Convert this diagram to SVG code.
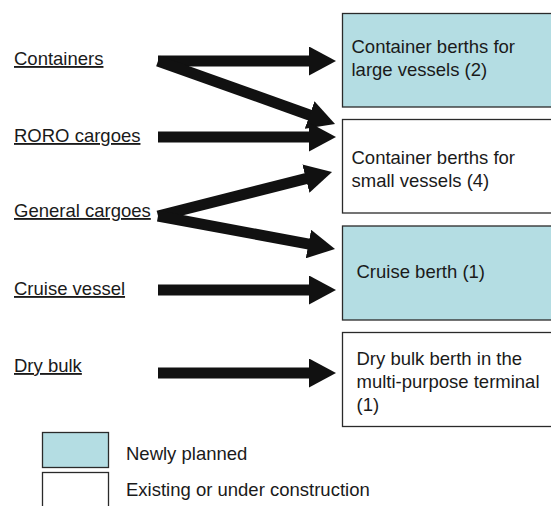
<svg xmlns="http://www.w3.org/2000/svg" width="551" height="506" viewBox="0 0 551 506">
<style>
text{font-family:"Liberation Sans",Arial,sans-serif;font-size:18.5px;fill:#1a1a1a}
.src{text-decoration:underline}
.box{stroke:#2a2a2a;stroke-width:1.3}
.new{fill:#b4dde3}
.old{fill:#ffffff}
.arr{stroke:#111;stroke-width:11;fill:none;stroke-linecap:butt;marker-end:url(#head)}
</style>
<defs>
<marker id="head" viewBox="0 0 27 29" refX="2" refY="14.5" markerWidth="27" markerHeight="29" markerUnits="userSpaceOnUse" orient="auto">
<path d="M0,0 L27,14.5 L0,29 Z" fill="#111"/>
</marker>
</defs>
<rect width="551" height="506" fill="#ffffff"/>
<g id="src-containers"><text class="src" x="14" y="65">Containers</text></g>
<g id="src-roro"><text class="src" x="14" y="142">RORO cargoes</text></g>
<g id="src-general"><text class="src" x="14" y="217">General cargoes</text></g>
<g id="src-cruise"><text class="src" x="14" y="295">Cruise vessel</text></g>
<g id="src-drybulk"><text class="src" x="14" y="372">Dry bulk</text></g>
<g id="berth-large"><rect class="box new" x="342.5" y="13.5" width="215" height="93.5"/><text x="351.5" y="53">Container berths for</text><text x="351.5" y="76">large vessels (2)</text></g>
<g id="berth-small"><rect class="box old" x="342.5" y="119.5" width="215" height="93.5"/><text x="351.5" y="164">Container berths for</text><text x="351.5" y="187">small vessels (4)</text></g>
<g id="berth-cruise"><rect class="box new" x="342.5" y="226" width="215" height="94"/><text x="356.5" y="278">Cruise berth (1)</text></g>
<g id="berth-drybulk"><rect class="box old" x="342.5" y="332.5" width="215" height="94"/><text x="356.5" y="365">Dry bulk berth in the</text><text x="356.5" y="388">multi-purpose terminal</text><text x="356.5" y="411">(1)</text></g>
<g id="legend-new"><rect class="box new" x="42.5" y="432.5" width="66" height="35"/><text x="126" y="460">Newly planned</text></g>
<g id="legend-old"><rect class="box old" x="42.5" y="472.5" width="66" height="40"/><text x="126" y="496">Existing or under construction</text></g>
<g id="connectors">
<line class="arr" x1="158" y1="61" x2="311" y2="61"/>
<line class="arr" x1="158" y1="61" x2="311.5" y2="115.7"/>
<line class="arr" x1="158" y1="137" x2="311" y2="137"/>
<line class="arr" x1="158" y1="216" x2="307.8" y2="178.1"/>
<line class="arr" x1="158" y1="216" x2="310.4" y2="244.4"/>
<line class="arr" x1="158" y1="290" x2="311" y2="290"/>
<line class="arr" x1="158" y1="373" x2="311" y2="373"/>
</g>
</svg>
